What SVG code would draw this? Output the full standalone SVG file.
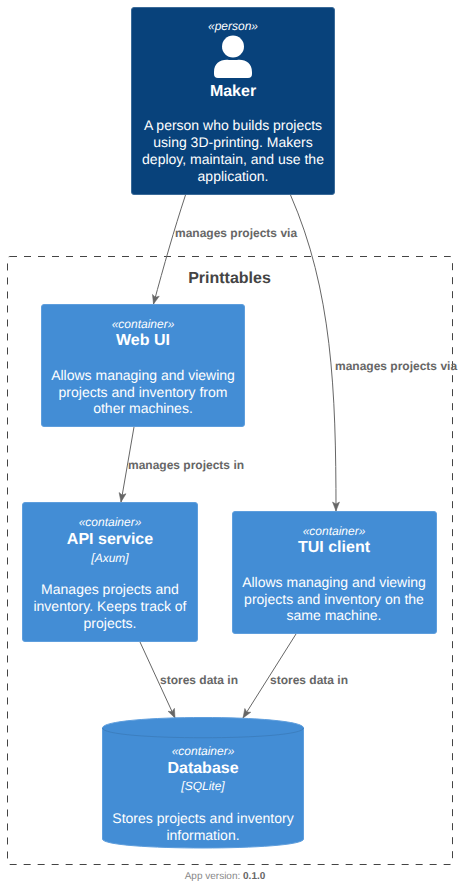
<svg xmlns="http://www.w3.org/2000/svg" width="464" height="888" viewBox="0 0 464 888">
<style>
text{font-family:"Liberation Sans",Arial,sans-serif;text-anchor:middle;fill:#fff;text-rendering:geometricPrecision}
.st{font-size:12px;font-style:italic}
.ti{font-size:16px;font-weight:bold}
.ds{font-size:14px}
.lb{font-size:12px;font-weight:bold;fill:#666;text-anchor:start}
.e{fill:none;stroke:#666;stroke-width:1}
.box{fill:#438DD5;stroke:#5E9EDD;stroke-width:1}
</style>
<defs><marker id="a" markerUnits="userSpaceOnUse" markerWidth="12" markerHeight="10" refX="11" refY="5" orient="auto"><path d="M2,1.5 L11,5 L2,8.5 L4,5Z" fill="#666" stroke="#666" stroke-width="0.5"/></marker></defs>
<rect width="464" height="888" fill="#fff"/>
<g id="boundary">
<rect x="7.5" y="256.5" width="445" height="608" rx="2.5" fill="none" stroke="#444" stroke-dasharray="7 7"/>
<text x="229.5" y="283" font-size="16" font-weight="bold" style="fill:#444">Printtables</text>
</g>
<g id="connectors">
<path class="e" marker-end="url(#a)" d="M185.5,195 C174,230 164,265 153.5,304"/>
<path class="e" marker-end="url(#a)" d="M290.5,195 C332,290 336,390 336,511"/>
<path class="e" marker-end="url(#a)" d="M134,427 L121,502"/>
<path class="e" marker-end="url(#a)" d="M140,642 L175,718"/>
<path class="e" marker-end="url(#a)" d="M296,634 L243,718"/>
<text class="lb" x="175" y="237">manages projects via</text>
<text class="lb" x="335" y="370">manages projects via</text>
<text class="lb" x="128" y="469">manages projects in</text>
<text class="lb" x="160" y="684">stores data in</text>
<text class="lb" x="270" y="684">stores data in</text>
</g>
<g id="maker">
<rect x="131.5" y="7.5" width="203" height="187" rx="2.5" fill="#08427B" stroke="#3A6A98"/>
<text class="st" x="233" y="30">«person»</text>
<circle cx="233" cy="46.5" r="11" fill="#fff"/>
<path d="M214,78 V72 C214,63 221,59 229,60 H237 C245,59 252,63 252,72 V74 Q252,78 248,78 H218 Q214,78 214,74Z" fill="#fff"/>
<text class="ti" x="233" y="96">Maker</text>
<text class="ds" x="233" y="130">A person who builds projects</text>
<text class="ds" x="233" y="147">using 3D-printing. Makers</text>
<text class="ds" x="233" y="164">deploy, maintain, and use the</text>
<text class="ds" x="233" y="181">application.</text>
</g>
<g id="webui">
<rect class="box" x="41.5" y="304.5" width="203" height="122" rx="2.5"/>
<text class="st" x="143" y="328">«container»</text>
<text class="ti" x="143" y="345">Web UI</text>
<text class="ds" x="143" y="380">Allows managing and viewing</text>
<text class="ds" x="143" y="397">projects and inventory from</text>
<text class="ds" x="143" y="413">other machines.</text>
</g>
<g id="api">
<rect class="box" x="22.5" y="502.5" width="175" height="139" rx="2.5"/>
<text class="st" x="110" y="526">«container»</text>
<text class="ti" x="110" y="544">API service</text>
<text class="st" x="110" y="562">[Axum]</text>
<text class="ds" x="110" y="594">Manages projects and</text>
<text class="ds" x="110" y="611">inventory. Keeps track of</text>
<text class="ds" x="110" y="628">projects.</text>
</g>
<g id="tui">
<rect class="box" x="232.5" y="511.5" width="204" height="122" rx="2.5"/>
<text class="st" x="334" y="535">«container»</text>
<text class="ti" x="334" y="552">TUI client</text>
<text class="ds" x="334" y="587">Allows managing and viewing</text>
<text class="ds" x="334" y="604">projects and inventory on the</text>
<text class="ds" x="334" y="620">same machine.</text>
</g>
<g id="database">
<path d="M102.5,728 C102.5,714 303.5,714 303.5,728 V839 C303.5,851 102.5,851 102.5,839Z" fill="#438DD5" stroke="#5E9EDD"/>
<path d="M102.5,728 C102.5,741 303.5,741 303.5,728" fill="none" stroke="#3C7FC0"/>
<text class="st" x="203" y="755">«container»</text>
<text class="ti" x="203" y="773">Database</text>
<text class="st" x="203" y="790">[SQLite]</text>
<text class="ds" x="203" y="823">Stores projects and inventory</text>
<text class="ds" x="203" y="840">information.</text>
</g>
<text x="225" y="879" font-size="10" style="fill:#888">App version: <tspan font-weight="bold" style="fill:#666">0.1.0</tspan></text>
</svg>
